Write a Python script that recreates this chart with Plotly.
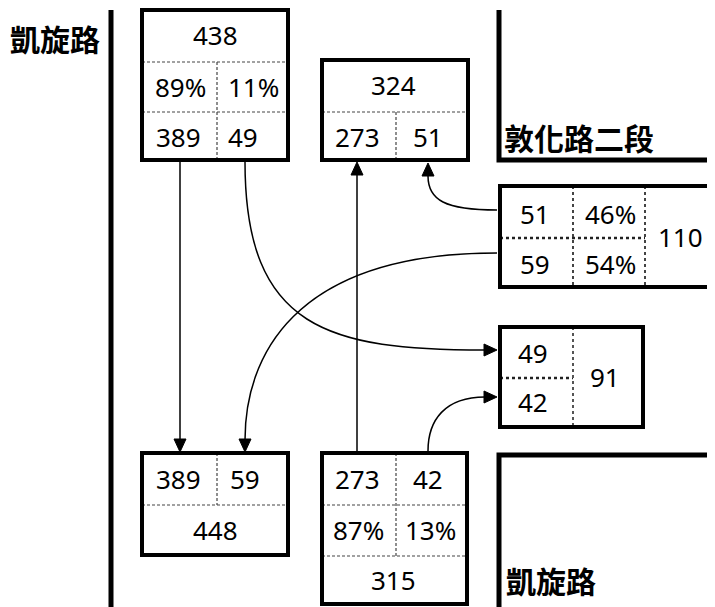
import plotly.graph_objects as go

# ---- data ----
road_labels = ["凱旋路", "敦化路二段", "凱旋路"]
box_a = {"total": 438, "pct": ["89%", "11%"], "vol": [389, 49]}
box_b = {"total": 324, "vol": [273, 51]}
box_c = {"vol": [51, 59], "pct": ["46%", "54%"], "total": 110}
box_d = {"vol": [49, 42], "total": 91}
box_e = {"vol": [389, 59], "total": 448}
box_f = {"vol": [273, 42], "pct": ["87%", "13%"], "total": 315}

W, H = 715, 607
OFF = 8  # default page body margin
NUM_FONT = dict(family="Noto Sans, DejaVu Sans", size=26, color="black")
CJK_FONT = dict(family="Noto Sans CJK TC", size=30, color="black")

shapes = []
annos = []


def rect(x0, y0, x1, y1, w=4):
    shapes.append(dict(type="rect", x0=x0, y0=y0, x1=x1, y1=y1,
                       line=dict(color="black", width=w), fillcolor="rgba(0,0,0,0)"))


def seg(x0, y0, x1, y1, w=1.2, dash="3px,2px", color="#444"):
    shapes.append(dict(type="line", x0=x0, y0=y0, x1=x1, y1=y1,
                       line=dict(color=color, width=w, dash=dash)))


def txt(x, y, t, font=NUM_FONT):
    annos.append(dict(x=x, y=y, text=str(t), showarrow=False, font=font,
                      xanchor="center", yanchor="middle"))


def path(d, w=1.5):
    shapes.append(dict(type="path", path=d, line=dict(color="black", width=w)))


def head(x, y, direction, L=13, hw=6):
    if direction == "down":
        pts = [(x, y), (x - hw, y - L), (x + hw, y - L)]
    elif direction == "up":
        pts = [(x, y), (x - hw, y + L), (x + hw, y + L)]
    elif direction == "right":
        pts = [(x, y), (x - L, y - hw), (x - L, y + hw)]
    else:
        pts = [(x, y), (x + L, y - hw), (x + L, y + hw)]
    d = "M %g,%g L %g,%g L %g,%g Z" % (pts[0] + pts[1] + pts[2])
    shapes.append(dict(type="path", path=d, fillcolor="black",
                       line=dict(color="black", width=1)))


# ---- roads ----
path("M 111,10 L 111,607", w=5)
path("M 499,10 L 499,160 L 715,160", w=5)
path("M 499,607 L 499,455 L 715,455", w=5)
annos.append(dict(x=55, y=38, text="<b>" + road_labels[0] + "</b>", showarrow=False,
                  font=CJK_FONT, xanchor="center", yanchor="middle"))
annos.append(dict(x=502, y=137, text="<b>" + road_labels[1] + "</b>", showarrow=False,
                  font=CJK_FONT, xanchor="left", yanchor="middle"))
annos.append(dict(x=504, y=580, text="<b>" + road_labels[2] + "</b>", showarrow=False,
                  font=CJK_FONT, xanchor="left", yanchor="middle"))

# ---- box A ----
seg(142, 62, 288, 62); seg(142, 112, 288, 112); seg(217, 62, 217, 160)
rect(142, 10, 288, 160)
txt(215, 35, box_a["total"])
txt(180, 87, box_a["pct"][0]); txt(253, 87, box_a["pct"][1])
txt(178, 137, box_a["vol"][0]); txt(243, 137, box_a["vol"][1])

# ---- box B ----
seg(322, 112, 468, 112); seg(396, 112, 396, 160)
rect(322, 60, 468, 160)
txt(393, 85, box_b["total"])
txt(357, 137, box_b["vol"][0]); txt(428, 137, box_b["vol"][1])

# ---- box C ----
seg(500, 238, 645, 238, w=2.5, dash="dot", color="#222")
seg(573, 186, 573, 287, w=2, dash="dot", color="#444")
seg(645, 186, 645, 287, w=2, dash="dot", color="#444")
rect(500, 186, 713, 287)
txt(535, 214, box_c["vol"][0]); txt(610, 214, box_c["pct"][0])
txt(535, 264, box_c["vol"][1]); txt(610, 264, box_c["pct"][1])
txt(680, 237, box_c["total"])

# ---- box D ----
seg(500, 378, 573, 378, w=2.5, dash="dot", color="#222")
seg(573, 327, 573, 427, w=2, dash="dot", color="#555")
rect(500, 327, 643, 427)
txt(533, 353, box_d["vol"][0]); txt(533, 402, box_d["vol"][1])
txt(605, 377, box_d["total"])

# ---- box E ----
seg(142, 505, 288, 505); seg(217, 453, 217, 505)
rect(142, 453, 288, 555)
txt(178, 479, box_e["vol"][0]); txt(245, 479, box_e["vol"][1])
txt(215, 530, box_e["total"])

# ---- box F ----
seg(322, 505, 467, 505); seg(322, 556, 467, 556); seg(396, 453, 396, 556)
rect(322, 453, 467, 604)
txt(357, 479, box_f["vol"][0]); txt(428, 479, box_f["vol"][1])
txt(358, 530, box_f["pct"][0]); txt(430, 530, box_f["pct"][1])
txt(393, 580, box_f["total"])

# ---- flows ----
path("M 180,162 L 180,440")
head(180, 452, "down")
path("M 245,162 C 245,330 330,350 485,350")
head(497, 350, "right")
path("M 357,451 L 357,175")
head(357, 162, "up")
path("M 497,210 C 445,210 428,200 428,176")
head(428, 163, "up")
path("M 497,253 C 290,253 245,360 245,440")
head(245, 452, "down")
path("M 428,451 C 428,420 445,397 485,397")
head(497, 397, "right")

fig = go.Figure()
fig.update_layout(
    width=W - OFF, height=H - OFF, margin=dict(l=0, r=0, t=0, b=0),
    paper_bgcolor="white", plot_bgcolor="white",
    xaxis=dict(range=[OFF, W], visible=False, fixedrange=True),
    yaxis=dict(range=[H, OFF], visible=False, fixedrange=True),
    shapes=shapes, annotations=annos, showlegend=False,
)
fig.write_html("out.html")
